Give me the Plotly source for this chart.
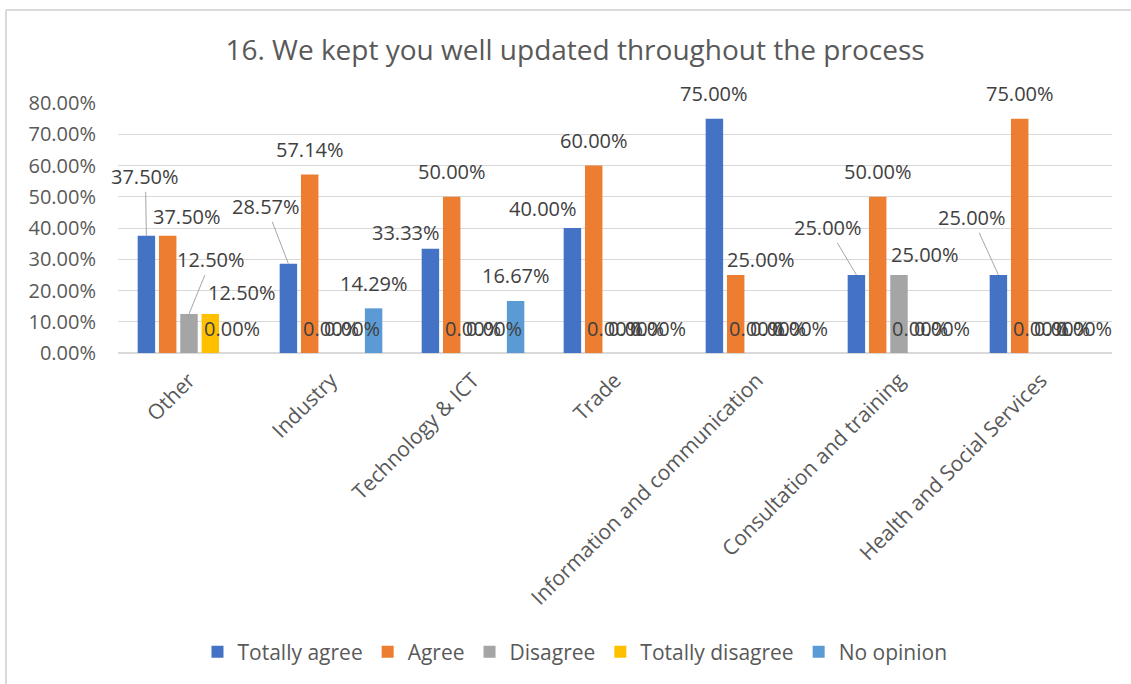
import plotly.graph_objects as go

# ── Data ──────────────────────────────────────────────────────────────────────
categories = ["Other", "Industry", "Technology & ICT", "Trade",
              "Information and communication", "Consultation and training",
              "Health and Social Services"]

series_names = ["Totally agree", "Agree", "Disagree", "Totally disagree", "No opinion"]

totally_agree    = [0.3750, 0.2857, 0.3333, 0.40, 0.75, 0.25, 0.25]
agree            = [0.3750, 0.5714, 0.50,   0.60, 0.25, 0.50, 0.75]
disagree         = [0.1250, 0.0,    0.0,    0.0,  0.0,  0.25, 0.0]
totally_disagree = [0.1250, 0.0,    0.0,    0.0,  0.0,  0.0,  0.0]
no_opinion       = [0.0,    0.1429, 0.1667, 0.0,  0.0,  0.0,  0.0]

series_values = [totally_agree, agree, disagree, totally_disagree, no_opinion]

# ── Style ─────────────────────────────────────────────────────────────────────
COLORS = ["#4472C4", "#ED7D31", "#A5A5A5", "#FFC000", "#5B9BD5"]
FONT = "Open Sans"
C_AXIS = "#595959"
C_LABEL = "#404040"
C_GRID = "#D9D9D9"

BARGAP = 0.25
SLOT = (1 - BARGAP) / len(series_names)

# label nudges (px) where Excel moved a label: (cat, series) -> (dx, dy, leader)
LABEL_MOVES = {
    (0, 0): (-1, -59, True),
    (0, 1): (19, -19, False),
    (0, 2): (22, -54, True),
    (0, 3): (32, -21, False),
    (1, 0): (-22, -57, True),
    (2, 0): (-24, -16, False),
    (3, 0): (-29, -20, False),
    (4, 1): (25, -15, False),
    (5, 0): (-28, -47, True),
    (5, 2): (26, -20, False),
    (6, 0): (-26, -57, True),
}

fig = go.Figure()

for name, vals, col in zip(series_names, series_values, COLORS):
    fig.add_trace(go.Bar(
        x=categories, y=vals, name=name,
        marker=dict(color=col, line=dict(width=0)),
        hoverinfo="skip",
    ))

# ── Data labels ───────────────────────────────────────────────────────────────
annotations = []
for s, vals in enumerate(series_values):
    for c, v in enumerate(vals):
        xpos = c + (s - (len(series_names) - 1) / 2) * SLOT
        text = f"{v * 100:.2f}%"
        base = dict(x=xpos, y=v, xref="x", yref="y", text=text,
                    font=dict(family=FONT, size=20, color=C_LABEL))
        if (c, s) in LABEL_MOVES:
            dx, dy, leader = LABEL_MOVES[(c, s)]
            if leader:
                annotations.append(dict(
                    **base, showarrow=True, arrowhead=0, arrowwidth=1,
                    arrowcolor="#A6A6A6", ax=dx, ay=dy,
                ))
            else:
                annotations.append(dict(
                    **base, showarrow=False, xanchor="center", yanchor="middle",
                    xshift=dx, yshift=-dy,
                ))
        else:
            annotations.append(dict(
                **base, showarrow=False, xanchor="center", yanchor="middle",
                yshift=25,
            ))

# ── Layout ────────────────────────────────────────────────────────────────────
L, R, T, B = 118, 19, 103, 331
W, H = 1131, 684
pw, ph = W - L - R, H - T - B

def px_x(p):
    return (p - L) / pw

def px_y(p):
    return (H - B - p) / ph

shapes = [
    dict(type="line", xref="paper", yref="paper",
         x0=px_x(6), x1=px_x(1131), y0=px_y(10), y1=px_y(10),
         line=dict(color=C_GRID, width=2)),
    dict(type="line", xref="paper", yref="paper",
         x0=px_x(6), x1=px_x(6), y0=px_y(10), y1=px_y(684),
         line=dict(color=C_GRID, width=2)),
]

fig.update_layout(
    width=W, height=H,
    margin=dict(l=L, r=R, t=T, b=B, autoexpand=False),
    paper_bgcolor="white", plot_bgcolor="white",
    barmode="group", bargap=BARGAP, bargroupgap=0.18,
    title=dict(
        text="16. We kept you well updated throughout the process",
        x=575 / W, xanchor="center", y=1 - 50 / H, yanchor="middle",
        font=dict(family=FONT, size=28, color=C_AXIS),
    ),
    xaxis=dict(
        type="category", tickangle=-45, showgrid=False, ticks="",
        range=[-0.5, len(categories) - 0.5],
        tickfont=dict(family=FONT, size=21, color=C_AXIS),
        showline=False, ticklabelstandoff=10,
    ),
    yaxis=dict(
        range=[0, 0.8], dtick=0.1, tickformat=".2%",
        showgrid=True, gridcolor=C_GRID, gridwidth=1,
        zeroline=True, zerolinecolor=C_GRID, zerolinewidth=2,
        tickfont=dict(family=FONT, size=20, color=C_AXIS),
        ticks="", ticklabelstandoff=21,
    ),
    legend=dict(
        orientation="h", x=px_x(575), xanchor="center",
        y=px_y(652), yanchor="middle",
        font=dict(family=FONT, size=21, color=C_AXIS),
        itemwidth=30, traceorder="normal",
    ),
    showlegend=True,
    annotations=annotations,
    shapes=shapes,
)

fig.write_html("out.html", config={"displayModeBar": False},
               post_script="document.body.style.margin='0';")
